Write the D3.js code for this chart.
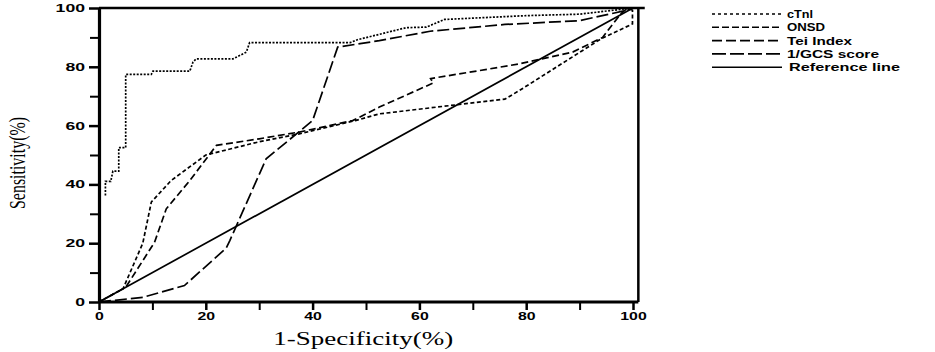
<!DOCTYPE html>
<html>
<head>
<meta charset="utf-8">
<script src="https://cdn.jsdelivr.net/npm/d3@7"></script>
<style>
  body { margin: 0; background: #fff; }
  svg { display: block; }
  .axis text { font-family: "Liberation Sans", Arial, sans-serif; font-weight: bold; fill: #000; }
  .axis path, .axis line { stroke: #000; }
</style>
</head>
<body>
<div id="chart"></div>
<script>
// ROC curves, [1-specificity, sensitivity] in %
const cTnI = [[1.2, 36.2], [1.2, 41], [2.2, 41], [2.6, 44.5], [3.7, 44.5], [3.7, 52.5], [5, 52.5], [5, 77.4],
  [9.8, 77.4], [10.1, 78.5], [17, 78.5], [17.6, 81.6], [18.2, 82.7], [25.1, 82.7], [27.6, 85], [28.2, 88.2],
  [47, 88.2], [48.4, 89.2], [57.5, 93.3], [61.3, 93.5], [64.7, 96.1], [80, 97.4], [90, 97.9], [99, 99.8], [100, 100]];
const onsd = [[0, 0], [4.5, 4.5], [8.2, 20], [9.8, 34], [13.5, 41.3], [20, 50], [30, 54.5], [37.5, 57.2],
  [48, 61.7], [52.5, 64], [76, 69], [78.7, 71.9], [94, 89.5], [99.9, 94.6], [99.9, 99.2], [99, 100]];
const tei = [[0, 0], [5, 5], [10.4, 20.3], [12.6, 31.7], [17, 41.3], [22, 53.3], [30, 55.5], [37.5, 57.8],
  [47.5, 61.7], [52.5, 66.3], [62.6, 74.5], [62.1, 76], [71.2, 78.7], [78.7, 81], [88.7, 85], [94.3, 90],
  [97.7, 98], [99, 100]];
const gcs = [[0, 0], [8.2, 1.6], [16, 5.6], [23.8, 18.3], [24.5, 20.9], [31.3, 48.7], [40, 61.7], [44.7, 86.7],
  [52.5, 88.9], [62, 92.1], [76, 94.4], [90, 95.7], [99, 99.3], [100, 100]];
const refLine = [[0, 0], [100, 100]];

const xTicks = [0, 20, 40, 60, 80, 100];
const xMinor = [10, 30, 50, 70, 90];
const yTicks = [0, 20, 40, 60, 80, 100];
const yMinor = [10, 30, 50, 70, 90];

const legendLabels = ['cTnl', 'ONSD', 'Tei Index', '1/GCS score', 'Reference line'];
const legendWidths = [26, 38, 65, 92, 111];

const W = 935, H = 352;
const margin = {top: 8, left: 99};
const width = 534, height = 294;

const x = d3.scaleLinear().domain([0, 100]).range([0, width]);
const y = d3.scaleLinear().domain([0, 100]).range([height, 0]);

const svg = d3.select('#chart').append('svg')
  .attr('width', W)
  .attr('height', H);

const g = svg.append('g')
  .attr('transform', 'translate(' + margin.left + ',' + margin.top + ')');

// frame: top and right edges
g.append('line')
  .attr('x1', x(0)).attr('x2', x(102.2))
  .attr('y1', y(100)).attr('y2', y(100))
  .attr('stroke', '#000').attr('stroke-width', 2.5);
g.append('line')
  .attr('x1', x(101)).attr('x2', x(101))
  .attr('y1', y(100) - 1).attr('y2', y(0))
  .attr('stroke', '#000').attr('stroke-width', 2.5);

// minor ticks
g.append('g').attr('class', 'axis')
  .call(d3.axisLeft(y).tickValues(yMinor).tickSize(9).tickFormat(''))
  .call(s => s.select('.domain').remove())
  .selectAll('line').attr('stroke-width', 2).attr('stroke', '#444');
g.append('g').attr('class', 'axis')
  .attr('transform', 'translate(0,' + height + ')')
  .call(d3.axisBottom(x).tickValues(xMinor).tickSize(8).tickFormat(''))
  .call(s => s.select('.domain').remove())
  .selectAll('line').attr('stroke-width', 2).attr('stroke', '#222');

// main axes
const yAxis = g.append('g').attr('class', 'axis')
  .call(d3.axisLeft(y).tickValues(yTicks).tickSize(10).tickPadding(4).tickSizeOuter(0));
yAxis.select('.domain').attr('stroke-width', 3.2);
yAxis.selectAll('.tick line').attr('stroke-width', 2.5);
yAxis.selectAll('.tick text')
  .attr('font-size', 11)
  .attr('textLength', d => String(d).length * 9.8)
  .attr('lengthAdjust', 'spacingAndGlyphs');

const xAxis = g.append('g').attr('class', 'axis')
  .attr('transform', 'translate(0,' + height + ')')
  .call(d3.axisBottom(x).tickValues(xTicks).tickSize(8).tickPadding(3).tickSizeOuter(0));
xAxis.select('.domain').attr('d', 'M' + x(0) + ',0H' + x(101)).attr('stroke-width', 3.2);
xAxis.selectAll('.tick line').attr('stroke-width', 2.5);
xAxis.selectAll('.tick text')
  .attr('font-size', 10)
  .attr('textLength', d => String(d).length * 8.8)
  .attr('lengthAdjust', 'spacingAndGlyphs');

// axis titles
svg.append('text')
  .attr('x', margin.left + x(49.5))
  .attr('y', 345)
  .attr('text-anchor', 'middle')
  .attr('font-family', '"Liberation Serif", "Times New Roman", serif')
  .attr('font-size', 18)
  .attr('textLength', 180)
  .attr('lengthAdjust', 'spacingAndGlyphs')
  .text('1-Specificity(%)');

svg.append('text')
  .attr('transform', 'translate(25,163) rotate(-90)')
  .attr('text-anchor', 'middle')
  .attr('font-family', '"Liberation Serif", "Times New Roman", serif')
  .attr('font-size', 24)
  .attr('textLength', 92)
  .attr('lengthAdjust', 'spacingAndGlyphs')
  .text('Sensitivity(%)');

// curves
const line = d3.line()
  .x(d => x(d[0]))
  .y(d => y(d[1]));

const series = [
  {data: cTnI, dash: '2,1.5', key: '3,3'},
  {data: onsd, dash: '4,2.5', key: '7,3'},
  {data: tei, dash: '7,3.5', key: '10,4'},
  {data: gcs, dash: '12,4', key: '14,4'},
  {data: refLine, dash: null, key: null}
];

g.selectAll('path.curve')
  .data(series)
  .enter().append('path')
  .attr('class', 'curve')
  .attr('d', d => line(d.data))
  .attr('fill', 'none')
  .attr('stroke', '#000')
  .attr('stroke-width', 1.7)
  .attr('stroke-dasharray', d => d.dash);

// legend
const legend = svg.append('g')
  .attr('transform', 'translate(712,14)');

const rows = legend.selectAll('g')
  .data(series)
  .enter().append('g')
  .attr('transform', (d, i) => 'translate(0,' + (i * 13.3) + ')');

rows.append('line')
  .attr('x1', 0).attr('x2', 70)
  .attr('stroke', '#000')
  .attr('stroke-width', 1.6)
  .attr('stroke-dasharray', d => d.key);

rows.append('text')
  .attr('x', (d, i) => i === 4 ? 77 : 75)
  .attr('y', 4)
  .attr('font-family', '"Liberation Sans", Arial, sans-serif')
  .attr('font-weight', 'bold')
  .attr('font-size', 11)
  .attr('textLength', (d, i) => legendWidths[i])
  .attr('lengthAdjust', 'spacingAndGlyphs')
  .text((d, i) => legendLabels[i]);
</script>
</body>
</html>
